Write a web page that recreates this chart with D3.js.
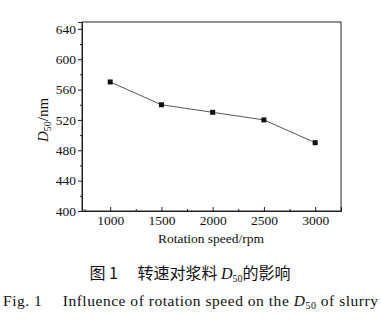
<!DOCTYPE html>
<html>
<head>
<meta charset="utf-8">
<script src="https://cdn.jsdelivr.net/npm/d3@7"></script>
<style>
  body { margin: 0; background: #fff; }
  svg { display: block; }
</style>
</head>
<body>
<svg id="chart" width="381" height="323"></svg>
<script>
// data
const speeds = [1000, 1500, 2000, 2500, 3000];
const d50 = [570, 540, 530, 520, 490];
const xTicks = [1000, 1500, 2000, 2500, 3000];
const yTicks = [400, 440, 480, 520, 560, 600, 640];

const serif = '"Liberation Serif", "Times New Roman", serif';
const svg = d3.select('#chart');

const mLeft = 82, mRight = 341, mTop = 22, mBottom = 211;
const x = d3.scaleLinear().domain([725, 3252]).range([mLeft, mRight]);
const y = d3.scaleLinear().domain([400, 649]).range([mBottom, mTop]);

// frame
svg.append('rect')
  .attr('x', mLeft).attr('y', mTop)
  .attr('width', mRight - mLeft).attr('height', mBottom - mTop)
  .attr('fill', 'none').attr('stroke', '#222').attr('stroke-width', 1);

// x axis, ticks inward
const xAxis = svg.append('g').attr('transform', `translate(0,${mBottom})`)
  .call(d3.axisBottom(x).tickValues(xTicks).tickSize(-4).tickPadding(4).tickFormat(d3.format('d')));
svg.append('g').attr('transform', `translate(0,${mBottom})`)
  .call(d3.axisBottom(x).tickValues([750, 1250, 1750, 2250, 2750, 3250]).tickSize(-2).tickFormat(''))
  .call(g => g.select('.domain').remove());

// y axis, ticks outward
const yAxis = svg.append('g').attr('transform', `translate(${mLeft},0)`)
  .call(d3.axisLeft(y).tickValues(yTicks).tickSize(4).tickPadding(2).tickFormat(d3.format('d')));
svg.append('g').attr('transform', `translate(${mLeft},0)`)
  .call(d3.axisLeft(y).tickValues([420, 460, 500, 540, 580, 620]).tickSize(2).tickFormat(''))
  .call(g => g.select('.domain').remove());

svg.selectAll('.domain').attr('stroke', '#222');
svg.selectAll('.tick line').attr('stroke', '#222');
[xAxis, yAxis].forEach((g) => {
  g.selectAll('text').attr('font-family', serif).attr('font-size', 13.5).attr('fill', '#111');
});

// line + square markers
const line = d3.line().x((d, i) => x(speeds[i])).y((d) => y(d));
svg.append('path')
  .datum(d50)
  .attr('d', line)
  .attr('fill', 'none')
  .attr('stroke', '#444')
  .attr('stroke-width', 0.9);
svg.selectAll('rect.pt')
  .data(d50)
  .join('rect')
  .attr('class', 'pt')
  .attr('x', (d, i) => x(speeds[i]) - 2.5)
  .attr('y', (d) => y(d) - 2.5)
  .attr('width', 5)
  .attr('height', 5)
  .attr('fill', '#111');

// axis titles
svg.append('text')
  .attr('x', 211).attr('y', 243)
  .attr('text-anchor', 'middle')
  .attr('font-family', serif).attr('font-size', 13.5).attr('fill', '#111')
  .text('Rotation speed/rpm');

const yLab = svg.append('text')
  .attr('transform', 'translate(48,120) rotate(-90)')
  .attr('text-anchor', 'middle')
  .attr('font-family', serif).attr('font-size', 15).attr('fill', '#111');
yLab.append('tspan').attr('font-style', 'italic').text('D');
yLab.append('tspan').attr('font-size', 10).attr('dy', 3).text('50');
yLab.append('tspan').attr('dy', -3).text('/nm');

// captions
const cap1 = svg.append('text')
  .attr('x', 190).attr('y', 279)
  .attr('text-anchor', 'middle')
  .attr('font-family', '"Noto Sans CJK SC", sans-serif').attr('font-size', 16).attr('fill', '#111');
cap1.append('tspan').text('图 1\u2003 转速对浆料 ');
cap1.append('tspan').attr('font-family', serif).attr('font-style', 'italic').text('D');
cap1.append('tspan').attr('font-family', serif).attr('font-size', 10).attr('dy', 3).text('50');
cap1.append('tspan').attr('dy', -3).text('的影响');

const cap2 = svg.append('text')
  .attr('x', 3).attr('y', 306)
  .attr('font-family', serif).attr('font-size', 15.5).attr('fill', '#111')
  .attr('textLength', 375).attr('lengthAdjust', 'spacing');
cap2.append('tspan').text('Fig. 1\u2003 Influence of rotation speed on the ');
cap2.append('tspan').attr('font-style', 'italic').text('D');
cap2.append('tspan').attr('font-size', 10).attr('dy', 3).text('50');
cap2.append('tspan').attr('dy', -3).text(' of slurry');
</script>
</body>
</html>
